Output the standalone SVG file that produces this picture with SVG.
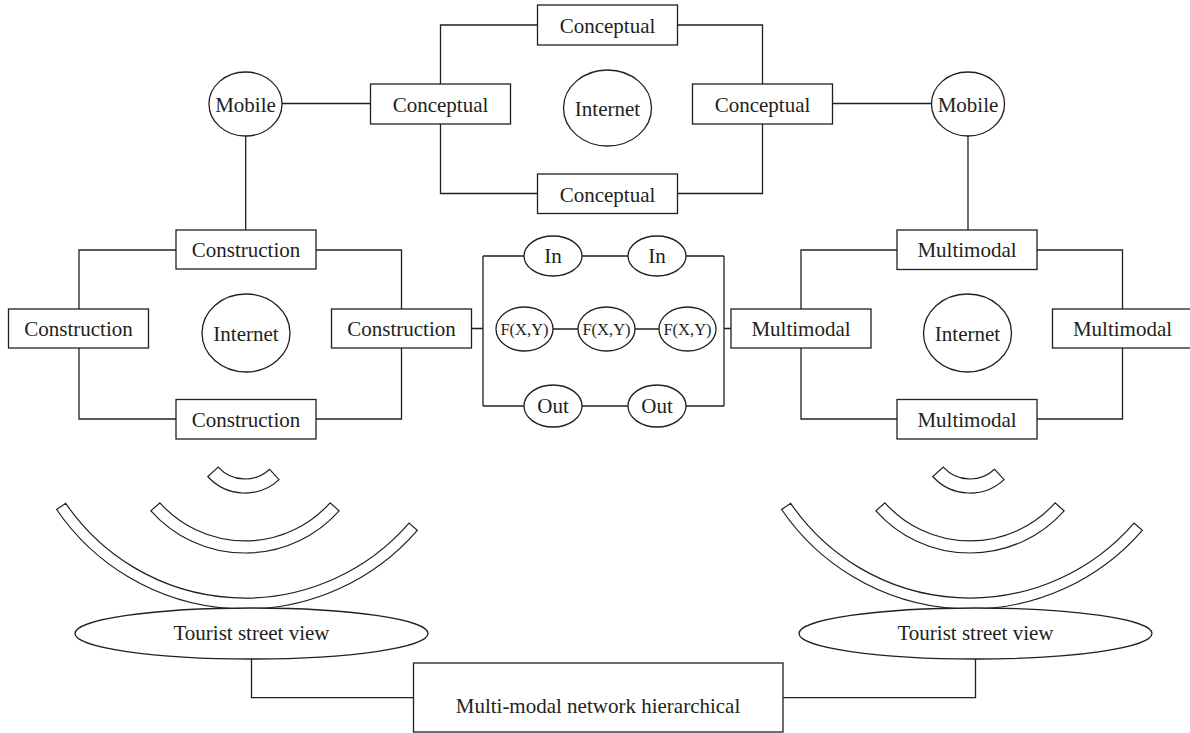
<svg xmlns="http://www.w3.org/2000/svg" width="1190" height="733" viewBox="0 0 1190 733">
<style>
.b{fill:#fff;stroke:#231f20;stroke-width:1.3}
.l{fill:none;stroke:#231f20;stroke-width:1.3}
.a{fill:#fff;stroke:#231f20;stroke-width:1.2}
text{font-family:"Liberation Serif","Times New Roman",serif;font-size:21px;fill:#231f20;text-anchor:middle}
.s{font-size:16.5px}
</style>
<rect width="1190" height="733" fill="#fff"/>
<defs>
<g id="waves">
<path class="a" d="M279.1,479.6 A50,50 0 0 1 207.8,476.5 L218.3,467.1 A36,36 0 0 0 269.6,469.3 Z"/>
<path class="a" d="M339.1,510.8 A126,126 0 0 1 150.9,510.8 L159.9,502.8 A114,114 0 0 0 330.1,502.8 Z"/>
<path class="a" d="M417.3,530.3 A228,228 0 0 1 56.6,509.5 L65.7,503.3 A217,217 0 0 0 409,523.1 Z"/>
</g>
</defs>
<g id="connectors">
<path class="l" d="M440.5,84 V25 H537.5 M677.5,25 H762.5 V84 M440.5,124 V193.5 H537.5 M677.5,193.5 H762.5 V124"/>
<path class="l" d="M282,103.5 H370.5 M832.5,103.5 H931.5 M245.7,136 V230 M968,136 V230"/>
<path class="l" d="M79,309 V250 H176 M316,250 H401.5 V309 M79,348 V419 H176 M316,419 H401.5 V348"/>
<path class="l" d="M472,328.5 H483 M483,256 V406 M483,256 H524 M582,256 H628 M686,256 H724 M483,406 H524 M582,406 H628 M686,406 H724 M724,256 V406 M724,328.5 H731 M553,329 H578 M635,329 H660"/>
<path class="l" d="M801,309 V250 H897 M1037,250 H1122.5 V309 M801,348 V419 H897 M1037,419 H1122.5 V348"/>
<path class="l" d="M251.5,659 V697.7 H413.5 M975.5,659 V697.7 H783"/>
</g>
<g id="waves-left"><use href="#waves"/></g>
<g id="waves-right"><use href="#waves" transform="translate(725,0)"/></g>
<g id="conceptual-top"><rect class="b" x="537.5" y="5" width="140" height="40"/><text x="607.5" y="32.5">Conceptual</text></g>
<g id="conceptual-left"><rect class="b" x="370.5" y="84" width="140" height="40"/><text x="440.5" y="111.5">Conceptual</text></g>
<g id="conceptual-right"><rect class="b" x="692.5" y="84" width="140" height="40"/><text x="762.5" y="111.5">Conceptual</text></g>
<g id="conceptual-bottom"><rect class="b" x="537.5" y="174" width="140" height="39.5"/><text x="607.5" y="201.5">Conceptual</text></g>
<g id="internet-top"><ellipse class="b" cx="607.5" cy="108" rx="44" ry="38"/><text x="607.5" y="115.5">Internet</text></g>
<g id="mobile-left"><ellipse class="b" cx="245.5" cy="104" rx="36.5" ry="32"/><text x="245.5" y="111.5">Mobile</text></g>
<g id="mobile-right"><ellipse class="b" cx="968" cy="104" rx="36.5" ry="32"/><text x="968" y="111.5">Mobile</text></g>
<g id="construction-top"><rect class="b" x="176" y="230" width="140" height="39"/><text x="246" y="257">Construction</text></g>
<g id="construction-left"><rect class="b" x="8.5" y="309" width="140" height="39"/><text x="78.5" y="336">Construction</text></g>
<g id="construction-right"><rect class="b" x="331.5" y="309" width="140" height="39"/><text x="401.5" y="336">Construction</text></g>
<g id="construction-bottom"><rect class="b" x="176" y="399.5" width="140" height="39.5"/><text x="246" y="426.7">Construction</text></g>
<g id="internet-left"><ellipse class="b" cx="246" cy="333" rx="44" ry="39"/><text x="246" y="340.5">Internet</text></g>
<g id="in-1"><ellipse class="b" cx="553" cy="256" rx="29" ry="20"/><text x="553" y="263">In</text></g>
<g id="in-2"><ellipse class="b" cx="657" cy="256" rx="29" ry="20"/><text x="657" y="263">In</text></g>
<g id="f-1"><ellipse class="b" cx="524.5" cy="329" rx="28.5" ry="22"/><text class="s" x="524.5" y="335">F(X,Y)</text></g>
<g id="f-2"><ellipse class="b" cx="606.5" cy="329" rx="28.5" ry="22"/><text class="s" x="606.5" y="335">F(X,Y)</text></g>
<g id="f-3"><ellipse class="b" cx="687.5" cy="329" rx="28.5" ry="22"/><text class="s" x="687.5" y="335">F(X,Y)</text></g>
<g id="out-1"><ellipse class="b" cx="553" cy="406" rx="29" ry="21"/><text x="553" y="413">Out</text></g>
<g id="out-2"><ellipse class="b" cx="657" cy="406" rx="29" ry="21"/><text x="657" y="413">Out</text></g>
<g id="multimodal-top"><rect class="b" x="897" y="230" width="140" height="39.5"/><text x="967" y="257">Multimodal</text></g>
<g id="multimodal-left"><rect class="b" x="731" y="309" width="140" height="39"/><text x="801" y="336">Multimodal</text></g>
<g id="multimodal-right"><rect class="b" x="1052.5" y="309" width="140" height="39"/><text x="1122.5" y="336">Multimodal</text></g>
<g id="multimodal-bottom"><rect class="b" x="897" y="399.5" width="140" height="39.5"/><text x="967" y="426.7">Multimodal</text></g>
<g id="internet-right"><ellipse class="b" cx="967.5" cy="333" rx="44" ry="39"/><text x="967.5" y="340.5">Internet</text></g>
<g id="tourist-left"><ellipse class="b" cx="251.5" cy="633.5" rx="176.5" ry="25.5"/><text x="251.5" y="640">Tourist street view</text></g>
<g id="tourist-right"><ellipse class="b" cx="975.5" cy="633.5" rx="176.5" ry="25.5"/><text x="975.5" y="640">Tourist street view</text></g>
<g id="hierarchical"><rect class="b" x="413.5" y="663" width="369.5" height="69"/><text x="598" y="713">Multi-modal network hierarchical</text></g>
</svg>
